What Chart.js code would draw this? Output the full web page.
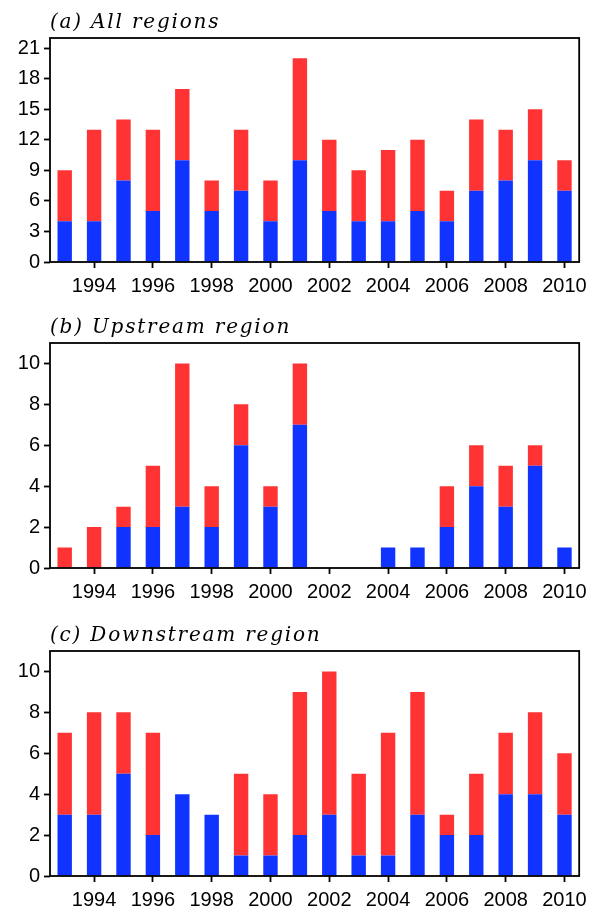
<!DOCTYPE html>
<html>
<head>
<meta charset="utf-8">
<script src="https://cdn.jsdelivr.net/npm/chart.js@4"></script>
<style>
  body { margin: 0; background: #fff; }
  #wrap { position: relative; width: 593px; height: 908px; }
  .panel { position: absolute; left: 0; width: 593px; }
</style>
</head>
<body>
<div id="wrap">
  <div class="panel" style="top:0;height:300px"><canvas id="chartA"></canvas></div>
  <div class="panel" style="top:300px;height:300px"><canvas id="chartB"></canvas></div>
  <div class="panel" style="top:600px;height:308px"><canvas id="chartC"></canvas></div>
</div>
<script>
// years on the x axis
const years = [1993, 1994, 1995, 1996, 1997, 1998, 1999, 2000, 2001,
               2002, 2003, 2004, 2005, 2006, 2007, 2008, 2009, 2010];

// (a) all regions: blue part and red part stacked on it
const allBlue = [4, 4, 8, 5, 10, 5, 7, 4, 10, 5, 4, 4, 5, 4, 7, 8, 10, 7];
const allRed  = [5, 9, 6, 8, 7, 3, 6, 4, 10, 7, 5, 7, 7, 3, 7, 5, 5, 3];

// (b) upstream region
const upBlue = [0, 0, 2, 2, 3, 2, 6, 3, 7, 0, 0, 1, 1, 2, 4, 3, 5, 1];
const upRed  = [1, 2, 1, 3, 7, 2, 2, 1, 3, 0, 0, 0, 0, 2, 2, 2, 1, 0];

// (c) downstream region
const downBlue = [3, 3, 5, 2, 4, 3, 1, 1, 2, 3, 1, 1, 3, 2, 2, 4, 4, 3];
const downRed  = [4, 5, 3, 5, 0, 0, 4, 3, 7, 7, 4, 6, 6, 1, 3, 3, 4, 3];

const yTicksA = [0, 3, 6, 9, 12, 15, 18, 21];
const yTicksBC = [0, 2, 4, 6, 8, 10];

const RED = "rgb(255, 51, 51)";
const BLUE = "rgb(17, 51, 255)";
const tickFont = { family: "Liberation Sans", size: 20 };

// box around the plot + italic title above it
const frame = {
  id: "frame",
  afterDraw(chart, args, opts) {
    const a = chart.chartArea;
    const ctx = chart.ctx;
    ctx.save();
    ctx.strokeStyle = "#000";
    ctx.lineWidth = 1.8;
    ctx.strokeRect(a.left, a.top, a.right - a.left, a.bottom - a.top);
    ctx.fillStyle = "#000";
    ctx.font = "italic 20px 'DejaVu Serif'";
    ctx.letterSpacing = "1.8px";
    ctx.textBaseline = "alphabetic";
    ctx.fillText(opts.title, a.left, a.top - 10);
    ctx.restore();
  },
};

function makeChart(id, title, blue, red, ymax, yTicks, pad, xHeight) {
  new Chart(document.getElementById(id), {
    type: "bar",
    data: {
      labels: years,
      datasets: [
        { data: blue, backgroundColor: BLUE, borderWidth: 0 },
        { data: red, backgroundColor: RED, borderWidth: 0 },
      ],
    },
    options: {
      responsive: true,
      maintainAspectRatio: false,
      animation: false,
      layout: { padding: { top: pad, right: 10, left: 0, bottom: 0 } },
      datasets: { bar: { barPercentage: 0.49, categoryPercentage: 1 } },
      plugins: {
        legend: { display: false },
        tooltip: { enabled: false },
        frame: { title: title },
      },
      scales: {
        x: {
          stacked: true,
          border: { display: false },
          grid: {
            offset: false,
            drawOnChartArea: false,
            drawTicks: true,
            tickLength: 6,
            tickWidth: 1.8,
            tickColor: (c) => (c.tick && c.tick.label !== "" ? "#000" : "rgba(0,0,0,0)"),
          },
          ticks: {
            autoSkip: false,
            maxRotation: 0,
            padding: 6,
            color: "#000",
            font: tickFont,
            callback: function (v, i) {
              return years[i] % 2 === 0 ? String(years[i]) : "";
            },
          },
          afterFit: (s) => { s.height = xHeight; },
        },
        y: {
          stacked: true,
          min: 0,
          max: ymax,
          border: { display: false },
          grid: {
            drawOnChartArea: false,
            drawTicks: true,
            tickLength: 6,
            tickWidth: 1.8,
            tickColor: "#000",
          },
          ticks: {
            padding: 4,
            color: "#000",
            font: tickFont,
          },
          afterBuildTicks: (s) => { s.ticks = yTicks.map((v) => ({ value: v })); },
          afterFit: (s) => { s.width = 50; },
        },
      },
    },
    plugins: [frame],
  });
}

makeChart("chartA", "(a) All regions", allBlue, allRed, 22, yTicksA, 38, 38);
makeChart("chartB", "(b) Upstream region", upBlue, upRed, 11, yTicksBC, 43, 32);
makeChart("chartC", "(c) Downstream region", downBlue, downRed, 11, yTicksBC, 51, 32);
</script>
</body>
</html>
